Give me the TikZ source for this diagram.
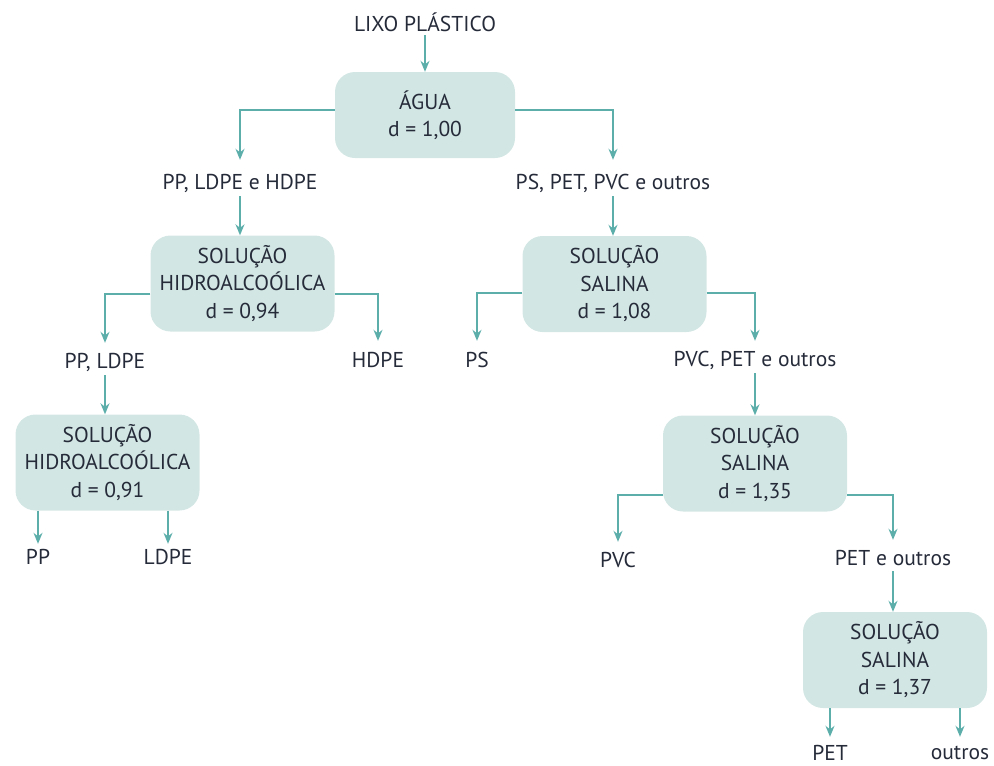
\documentclass[tikz,border=0pt]{standalone}
\usepackage{fontspec}
\setmainfont{PT Sans}
\usetikzlibrary{arrows.meta}
\definecolor{corcaixa}{HTML}{D2E6E3}
\definecolor{corseta}{HTML}{5BAEAA}
\definecolor{cortexto}{HTML}{262B3A}
\tikzset{
  caixa/.style={fill=corcaixa, rounded corners=20pt, minimum width=184pt, minimum height=96pt,
    align=center, inner sep=0pt, text=cortexto, font=\fontsize{21.5}{27.5}\selectfont},
  rotulo/.style={minimum height=20pt, inner sep=0pt, text=cortexto, font=\fontsize{21.5}{25}\selectfont},
  fluxo/.style={draw=corseta, line width=1.5pt, -{Stealth[length=11pt,width=9pt]}}
}
\begin{document}
\begin{tikzpicture}[x=1pt,y=-1pt]
  \useasboundingbox (0,0) rectangle (994,766);
  % caixas
  \node[caixa, minimum width=180pt, minimum height=86pt] (agua) at (425,115) {ÁGUA\\d = 1,00};
  \node[caixa] (hid1) at (242.5,283.5) {SOLUÇÃO\\HIDROALCOÓLICA\\d = 0,94};
  \node[caixa] (sal1) at (614.5,284) {SOLUÇÃO\\SALINA\\d = 1,08};
  \node[caixa] (hid2) at (107.5,462.5) {SOLUÇÃO\\HIDROALCOÓLICA\\d = 0,91};
  \node[caixa] (sal2) at (755,463.5) {SOLUÇÃO\\SALINA\\d = 1,35};
  \node[caixa] (sal3) at (895,660) {SOLUÇÃO\\SALINA\\d = 1,37};
  % rotulos
  \node[rotulo] (lixo) at (425,22) {LIXO PLÁSTICO};
  \node[rotulo] (ppldhd) at (240,183) {PP, LDPE e HDPE};
  \node[rotulo] (pspet) at (613,183) {PS, PET, PVC e outros};
  \node[rotulo] (ppld) at (105,362) {PP, LDPE};
  \node[rotulo] (hdpe) at (378,360) {HDPE};
  \node[rotulo] (ps) at (477,360) {PS};
  \node[rotulo] (pvcpet) at (755,360) {PVC, PET e outros};
  \node[rotulo] (pp) at (38,557) {PP};
  \node[rotulo] (ldpe) at (168,557) {LDPE};
  \node[rotulo] (pvc) at (618,560) {PVC};
  \node[rotulo] (petout) at (893,558) {PET e outros};
  \node[rotulo] (pet) at (830,753) {PET};
  \node[rotulo] (outros) at (960,753) {outros};
  % setas
  \draw[fluxo] ([yshift=-3pt]lixo.south) -- (lixo.south |- agua.north);
  \draw[fluxo] (agua.west |- 0,110) -| ([yshift=13pt]ppldhd.north);
  \draw[fluxo] (agua.east |- 0,110) -| ([yshift=13pt]pspet.north);
  \draw[fluxo] ([yshift=-3pt]ppldhd.south) -- (ppldhd.south |- hid1.north);
  \draw[fluxo] ([yshift=-3pt]pspet.south) -- (pspet.south |- sal1.north);
  \draw[fluxo] (hid1.west |- 0,294) -| ([yshift=9pt]ppld.north);
  \draw[fluxo] (hid1.east |- 0,294) -| ([yshift=9pt]hdpe.north);
  \draw[fluxo] (sal1.west |- 0,293) -| ([yshift=9pt]ps.north);
  \draw[fluxo] (sal1.east |- 0,293) -| ([yshift=9pt]pvcpet.north);
  \draw[fluxo] ([yshift=-3pt]ppld.south) -- (ppld.south |- hid2.north);
  \draw[fluxo] ([yshift=-3pt]pvcpet.south) -- (pvcpet.south |- sal2.north);
  \draw[fluxo] (pp.north |- hid2.south) -- ([yshift=3pt]pp.north);
  \draw[fluxo] (ldpe.north |- hid2.south) -- ([yshift=3pt]ldpe.north);
  \draw[fluxo] (sal2.west |- 0,495) -| ([yshift=8pt]pvc.north);
  \draw[fluxo] (sal2.east |- 0,495) -| ([yshift=8pt]petout.north);
  \draw[fluxo] ([yshift=-3pt]petout.south) -- (petout.south |- sal3.north);
  \draw[fluxo] (pet.north |- sal3.south) -- ([yshift=6pt]pet.north);
  \draw[fluxo] (outros.north |- sal3.south) -- ([yshift=6pt]outros.north);
\end{tikzpicture}
\end{document}
